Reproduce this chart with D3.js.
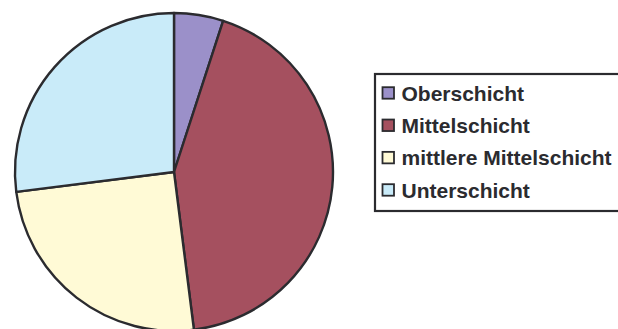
<!DOCTYPE html>
<html>
<head>
<meta charset="utf-8">
<script src="https://cdn.jsdelivr.net/npm/d3@7"></script>
<style>
  html, body { margin: 0; padding: 0; background: #fff; }
  svg { display: block; }
</style>
</head>
<body>
<svg id="chart" width="618" height="329"></svg>
<script>
// Shares of social classes
const categories = ["Oberschicht", "Mittelschicht", "mittlere Mittelschicht", "Unterschicht"];
const values = [5, 43, 25, 27];
const colors = ["#9b90c9", "#a5505f", "#fffad6", "#c9ebf9"];

const svg = d3.select("#chart");
const cx = 174, cy = 172, r = 159;

const pie = d3.pie().sort(null).value(d => d.value);
const arc = d3.arc().innerRadius(0).outerRadius(r);
const data = categories.map((c, i) => ({ name: c, value: values[i], color: colors[i] }));

const g = svg.append("g").attr("transform", `translate(${cx},${cy})`);
g.selectAll("path")
  .data(pie(data))
  .join("path")
  .attr("d", arc)
  .attr("fill", d => d.data.color)
  .attr("stroke", "#2b2b2f")
  .attr("stroke-width", 2.4)
  .attr("stroke-linejoin", "round");

// Legend
const lx = 375, ly = 74, lw = 260, lh = 137;
svg.append("rect")
  .attr("x", lx).attr("y", ly).attr("width", lw).attr("height", lh)
  .attr("fill", "#fff").attr("stroke", "#2b2b2f").attr("stroke-width", 2.2);

const rowY = d3.scalePoint().domain(categories).range([93, 190]);
const items = svg.selectAll("g.item").data(data).join("g").attr("class", "item")
  .attr("transform", d => `translate(0,${rowY(d.name)})`);
items.append("rect")
  .attr("x", 382.5).attr("y", -5.8).attr("width", 11.5).attr("height", 11.5)
  .attr("fill", d => d.color).attr("stroke", "#2b2b2f").attr("stroke-width", 1.8);
items.append("text")
  .attr("x", 401.5).attr("y", 7.5)
  .attr("font-family", "Liberation Sans, Arial, sans-serif")
  .attr("font-weight", "bold").attr("font-size", 21)
  .attr("fill", "#2b2b2f")
  .text(d => d.name);
</script>
</body>
</html>
